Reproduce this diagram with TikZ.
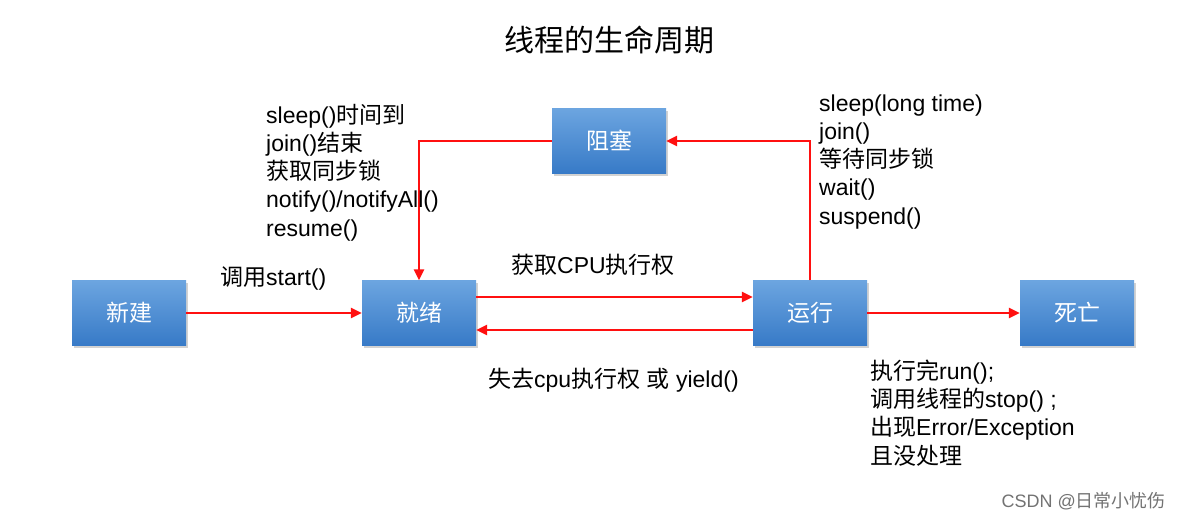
\documentclass[tikz,border=0pt]{standalone}
\usepackage{fontspec}
\setmainfont{Liberation Sans}
\newfontfamily\cjk{Noto Sans CJK SC}
\usetikzlibrary{arrows.meta,shadows,calc}
\definecolor{boxtop}{HTML}{6CA5E0}
\definecolor{boxbot}{HTML}{377AC7}
\definecolor{arrowred}{HTML}{FF1010}
\tikzset{
  state/.style={rectangle, minimum width=114pt, minimum height=65pt, inner sep=0pt,
    top color=boxtop, bottom color=boxbot, draw=none,
    drop shadow={shadow xshift=1.5pt, shadow yshift=-2pt, opacity=0.35},
    text=white, font=\fontsize{23}{28}\selectfont\cjk},
  lbl/.style={anchor=base west, inner sep=0pt, font=\fontsize{23}{28}\selectfont, text=black},
  flow/.style={draw=arrowred, line width=2.7pt, -{Triangle[length=11pt,width=10pt]}}
}
\begin{document}
\begin{tikzpicture}[x=1pt,y=-1pt]
\useasboundingbox (0,0) rectangle (1181,522);
\fill[white] (0,0) rectangle (1181,522);

\node[anchor=base, inner sep=0pt, font=\fontsize{30}{34}\selectfont\cjk] (title) at (609,51) {线程的生命周期};

\node[state] (xj) at (129,313) {新建};
\node[state] (jx) at (419,313) {就绪};
\node[state] (yx) at (810,313) {运行};
\node[state] (sw) at (1077,313) {死亡};
\node[state] (zs) at (609,141) {阻塞};

\draw[flow] (xj.east) -- (jx.west);
\draw[flow] ([yshift=16pt]jx.east) -- ([yshift=16pt]yx.west);
\draw[flow] ([yshift=-17pt]yx.west) -- ([yshift=-17pt]jx.east);
\draw[flow] (yx.north) -- (yx.north |- zs.east) -- (zs.east);
\draw[flow] (zs.west) -- (jx.north |- zs.west) -- (jx.north);
\draw[flow] (yx.east) -- (sw.west);

\node[lbl] (l1) at (266,123) {sleep(){\cjk 时间到}};
\node[lbl] (l2) at (266,151) {join(){\cjk 结束}};
\node[lbl] (l3) at (266,179) {\cjk 获取同步锁};
\node[lbl] (l4) at (266,207) {notify()/notifyAll()};
\node[lbl] (l5) at (266,236) {resume()};

\node[lbl] (r1) at (819,111) {sleep(long time)};
\node[lbl] (r2) at (819,139) {join()};
\node[lbl] (r3) at (819,167) {\cjk 等待同步锁};
\node[lbl] (r4) at (819,195) {wait()};
\node[lbl] (r5) at (819,224) {suspend()};

\node[lbl] (s1) at (220,285) {{\cjk 调用}start()};
\node[lbl] (c1) at (511,273) {{\cjk 获取}CPU{\cjk 执行权}};
\node[lbl] (c2) at (488,387) {{\cjk 失去}cpu{\cjk 执行权} {\cjk 或} yield()};

\node[lbl] (d1) at (870,379) {{\cjk 执行完}run();};
\node[lbl] (d2) at (870,407) {{\cjk 调用线程的}stop() ;};
\node[lbl] (d3) at (870,435) {{\cjk 出现}Error/Exception};
\node[lbl] (d4) at (870,464) {\cjk 且没处理};

\node[anchor=base east, inner sep=0pt, font=\fontsize{18}{20}\selectfont, text=black!55] (wm) at (1166,507) {CSDN @{\cjk 日常小忧伤}};
\end{tikzpicture}
\end{document}
